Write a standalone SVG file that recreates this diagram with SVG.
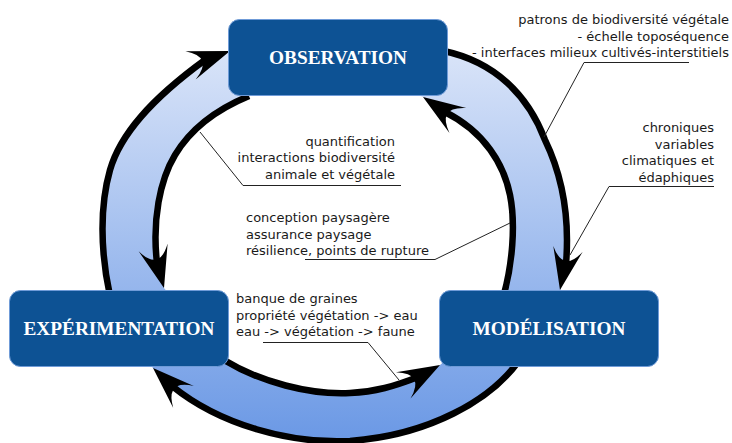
<svg xmlns="http://www.w3.org/2000/svg" width="732" height="443" viewBox="0 0 732 443">
<style>
.lbl{font-family:"DejaVu Sans","Liberation Sans",sans-serif;font-size:13px;fill:#1a1a1a}
.end{text-anchor:end}
.ttl{font-family:"Liberation Serif","DejaVu Serif",serif;font-weight:bold;font-size:19.3px;fill:#ffffff;text-anchor:middle}
.box{fill:#0d5294;stroke:#6f9bd8;stroke-width:1}
.arc{fill:none;stroke:#000;stroke-width:6.5}
.lead{fill:none;stroke:#222;stroke-width:1}
</style>
<defs>
<linearGradient id="band" gradientUnits="userSpaceOnUse" x1="0" y1="20" x2="0" y2="443">
<stop offset="0" stop-color="#e2eafa"/>
<stop offset="1" stop-color="#6a98e5"/>
</linearGradient>
<path id="ah" d="M0,0 L-42,-15 Q-17,0 -42,15 Z" fill="#000"/>
</defs>
<g id="connectors">
<path fill="url(#band)" fill-rule="evenodd" d="M110,296 C100,250 100,205 110,170 C120,135 150,100 205,60 L230,51 L260,40 L444,51 C495,62 528,95 545,140 C562,175 570,215 566,262 L560,292 L530,340 L518,362 C490,400 430,435 350,441 C290,444 220,425 174,388 L153,368 L130,340 Z M249,96 C215,110 190,130 175,155 C160,180 152,220 157,262 L164,288 L200,330 L224,360 C260,382 310,395 350,393 C375,392 395,386 416,378 L440,365 L480,330 L504,294 C512,265 516,225 510,195 C504,165 485,132 446,113 L423,97 L330,60 Z"/>
<path class="arc" d="M110,296 C100,250 100,205 110,170 C120,135 150,100 205,60"/>
<path class="arc" d="M444,51 C495,62 528,95 545,140 C562,175 570,215 566,264"/>
<path class="arc" d="M504,294 C512,265 516,225 510,195 C504,165 485,132 445,112"/>
<path class="arc" d="M249,96 C215,110 190,130 175,155 C160,180 152,220 157,263"/>
<path class="arc" d="M224,360 C260,382 310,395 350,393 C375,392 395,386 418,377"/>
<path class="arc" d="M518,362 C490,400 430,435 350,441 C290,444 220,425 172,386"/>
<use href="#ah" transform="translate(230,51) rotate(-20)"/>
<use href="#ah" transform="translate(423,97) rotate(214)"/>
<use href="#ah" transform="translate(560,290) rotate(101)"/>
<use href="#ah" transform="translate(164,288) rotate(75)"/>
<use href="#ah" transform="translate(440,365) rotate(-29)"/>
<use href="#ah" transform="translate(153,368) rotate(223.5)"/>
</g>
<g id="observation">
<rect class="box" x="228.5" y="19.5" width="219" height="76" rx="11"/>
<text class="ttl" x="338" y="64">OBSERVATION</text>
</g>
<g id="experimentation">
<rect class="box" x="9.5" y="290.5" width="219" height="76" rx="11"/>
<text class="ttl" x="119" y="334.5">EXPÉRIMENTATION</text>
</g>
<g id="modelisation">
<rect class="box" x="439.5" y="290.5" width="219" height="76" rx="11"/>
<text class="ttl" x="549" y="334.5">MODÉLISATION</text>
</g>
<g id="leaders">
<path class="lead" d="M689,62.5 L584,62.5 L544,137"/>
<path class="lead" d="M714,186.5 L609,186.5 L570,255"/>
<path class="lead" d="M401,185.5 L243,185.5 L200,132"/>
<path class="lead" d="M305,259.5 L435,259.5 L510,223"/>
<path class="lead" d="M263,342.5 L368,342.5 L399,380"/>
</g>
<g id="labels">
<text class="lbl end" x="729" y="24">patrons de biodiversité végétale</text>
<text class="lbl end" x="729" y="40.5">- échelle toposéquence</text>
<text class="lbl end" x="729" y="57">- interfaces milieux cultivés-interstitiels</text>
<text class="lbl end" x="714" y="132">chroniques</text>
<text class="lbl end" x="714" y="148.5">variables</text>
<text class="lbl end" x="714" y="165">climatiques et</text>
<text class="lbl end" x="714" y="181.5">édaphiques</text>
<text class="lbl end" x="395" y="145.5">quantification</text>
<text class="lbl end" x="395" y="162">interactions biodiversité</text>
<text class="lbl end" x="395" y="178.5">animale et végétale</text>
<text class="lbl" x="246" y="222">conception paysagère</text>
<text class="lbl" x="246" y="238.5">assurance paysage</text>
<text class="lbl" x="246" y="255">résilience, points de rupture</text>
<text class="lbl" x="236" y="303">banque de graines</text>
<text class="lbl" x="236" y="319.5">propriété végétation -&gt; eau</text>
<text class="lbl" x="236" y="336">eau -&gt; végétation -&gt; faune</text>
</g>
</svg>
